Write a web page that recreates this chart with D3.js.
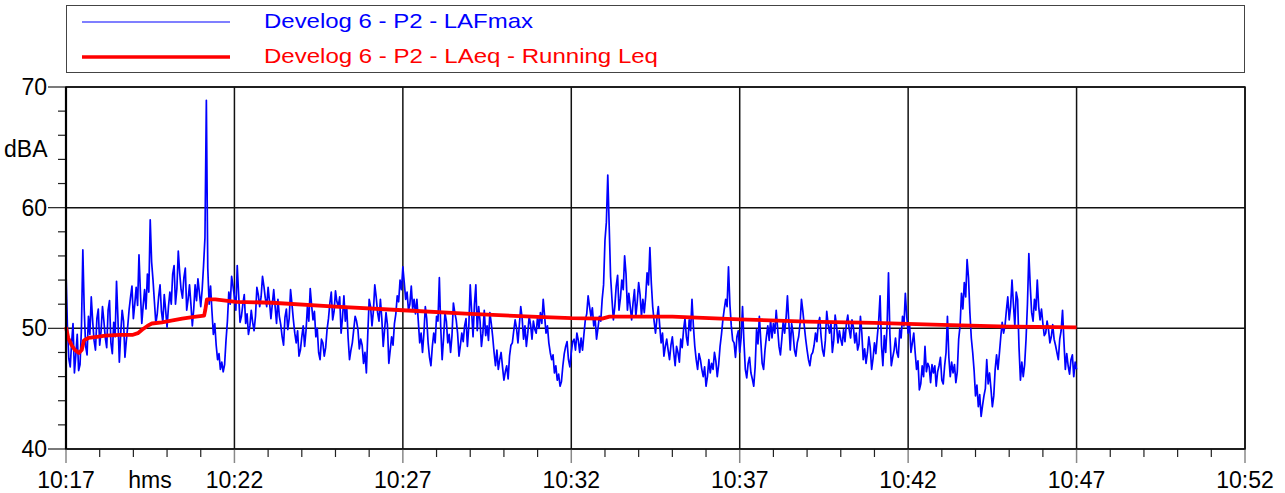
<!DOCTYPE html>
<html>
<head>
<meta charset="utf-8">
<script src="https://cdn.jsdelivr.net/npm/d3@7/dist/d3.min.js"></script>
<style>
  html, body { margin: 0; padding: 0; background: #fff; }
  svg { display: block; font-family: "Liberation Sans", Arial, sans-serif; }
</style>
</head>
<body>
<svg id="chart" width="1285" height="493"></svg>
<script>
// ---------------- DATA ----------------
const startTime = "10:17:00";
const sampleStepSeconds = 5;
const xTickLabels = ["10:17", "10:22", "10:27", "10:32", "10:37", "10:42", "10:47", "10:52"];
const yTickLabels = [40, 50, 60, 70];
const seriesNames = ["Develog 6 - P2 - LAFmax", "Develog 6 - P2 - LAeq - Running Leq"];

// LAFmax read at 10:17:00 + k*5 s (dBA)
const lafmax = [
  54.7,47.5,48.8,46.3,49.5,47.0,56.5,48.5,51.0,52.6,49.0,50.8,48.6,51.8,49.2,51.5,48.8,50.5,53.9,47.2,
  51.5,47.6,50.2,52.6,50.8,53.4,56.1,50.4,53.2,54.5,59.0,54.0,50.4,52.6,51.4,52.8,50.1,53.0,54.5,52.0,
  56.4,53.2,54.2,51.5,53.6,50.2,53.6,54.1,51.8,55.2,68.9,52.0,51.4,50.4,47.4,46.6,46.4,49.0,53.0,54.3,
  52.6,55.2,50.5,52.0,50.4,49.5,51.5,49.8,53.4,51.8,54.3,52.5,53.4,50.8,
  53.2,50.4,51.0,49.3,50.9,49.9,53.2,50.7,48.8,47.7,49.3,48.5,51.8,53.3,50.7,49.3,48.0,49.1,47.7,49.9,
  52.1,50.7,53.1,51.8,49.6,52.7,51.8,47.4,48.8,51.0,49.9,49.1,47.1,46.3,52.4,50.2,53.6,51.3,52.4,48.5,
  51.3,47.1,49.3,50.4,52.7,54.0,55.1,52.4,51.5,53.5,52.4,52.4,48.8,48.0,51.8,48.8,46.9,49.6,51.0,54.2,
  47.4,51.3,48.8,48.0,52.1,50.7,47.7,49.6,50.2,48.5,53.6,49.3,
  53.6,51.8,48.5,51.5,50.2,51.3,49.3,46.9,46.6,48.0,45.7,46.9,47.7,48.8,50.7,48.8,51.8,49.1,48.5,51.0,
  49.1,49.9,51.0,51.3,52.4,49.6,48.8,47.4,46.3,45.7,45.2,46.9,48.5,47.4,48.0,49.1,49.6,48.0,48.2,50.7,
  52.7,51.0,50.2,49.1,51.0,52.4,57.3,62.7,54.3,50.7,53.5,51.5,54.0,56.0,51.5,51.8,52.1,51.0,53.8,51.0,
  51.3,54.6,56.7,51.8,49.6,51.8,48.8,47.7,49.1,47.4,49.3,46.9,
  48.0,49.1,49.9,49.3,50.7,52.4,48.5,46.6,47.4,46.0,45.2,47.4,47.1,48.0,46.0,48.5,50.7,52.4,55.1,50.2,
  48.8,49.3,48.0,51.8,46.6,47.1,46.3,45.2,49.9,51.0,47.1,48.2,50.2,50.7,50.4,51.5,48.5,49.1,49.6,52.7,
  48.2,49.6,47.7,49.3,52.4,50.2,48.2,46.9,48.0,49.6,50.4,49.3,47.7,51.4,49.6,48.0,51.1,48.8,49.1,49.9,
  50.4,49.9,50.7,48.8,48.2,51.0,47.4,47.1,49.3,46.6,48.8,49.3,
  52.7,46.9,48.0,54.6,46.9,48.2,48.0,49.9,51.0,52.9,49.6,48.0,49.6,46.6,44.9,46.9,48.5,47.1,45.5,46.3,
  45.2,46.9,45.7,46.9,51.0,46.0,46.3,45.5,49.1,52.9,53.8,55.7,51.3,48.0,44.4,43.5,42.7,44.4,47.4,46.3,
  43.5,46.6,46.6,49.3,49.6,51.5,50.7,54.0,50.2,52.4,45.7,46.0,49.1,56.2,51.3,52.4,54.0,50.7,50.4,49.6,
  49.9,49.3,49.1,48.0,49.1,51.5,46.6,46.9,47.4,46.0,46.6
];

// LAFmax read at 10:17:02.5 + k*5 s (dBA)
const lafmaxHalf = [
  50.2,46.8,50.4,47.8,46.5,50.0,51.5,47.8,49.5,50.6,48.2,51.6,49.8,50.6,48.4,52.3,47.9,49.3,50.8,49.6,
  50.6,49.0,51.6,53.5,52.0,51.9,53.0,51.9,51.6,53.0,55.5,52.2,51.2,53.6,50.5,51.5,51.8,52.0,55.2,53.3,
  54.6,52.5,55.0,52.4,52.0,51.6,52.3,53.0,53.2,57.5,55.0,53.5,49.5,48.6,47.9,47.2,47.0,50.6,52.0,53.5,
  51.5,52.8,51.0,52.8,51.2,50.2,50.5,51.0,52.8,52.6,53.5,51.8,52.2,52.0,
  51.8,52.4,50.3,48.6,51.6,50.8,52.0,49.6,49.8,48.2,50.2,49.8,50.6,51.9,51.4,50.0,47.4,48.8,48.4,50.8,
  53.0,51.4,52.2,52.6,50.9,50.6,49.2,48.2,49.9,50.6,48.3,48.6,48.0,49.5,51.8,51.4,52.6,50.6,50.8,49.9,
  50.3,48.2,48.6,51.2,52.2,53.2,53.8,53.0,52.0,51.6,51.2,50.6,49.6,49.6,50.8,47.6,48.5,48.8,50.6,50.0,
  49.2,50.6,49.5,49.4,51.3,49.6,48.6,48.9,50.8,50.2,51.4,52.0,
  49.8,50.6,49.6,49.4,49.0,50.4,48.0,48.2,47.4,46.8,46.4,45.8,48.6,49.8,50.0,50.3,50.8,50.2,49.6,50.3,
  50.6,49.6,50.0,50.4,51.0,50.2,48.0,47.8,46.9,46.2,45.6,47.9,48.9,46.8,48.9,48.2,49.0,49.2,49.5,51.2,
  51.8,51.7,50.8,50.0,50.6,53.6,58.8,58.5,52.4,51.8,54.4,52.5,53.2,54.5,52.9,50.7,53.2,52.2,52.8,52.4,
  52.6,53.6,53.8,50.6,50.8,50.2,49.6,48.5,48.2,48.6,48.0,48.5,
  47.2,48.4,50.8,48.6,49.8,50.2,47.4,47.9,46.6,46.8,46.0,46.3,46.6,47.3,47.0,49.5,51.6,51.8,52.0,49.0,
  47.6,49.8,49.2,48.9,45.9,47.6,45.8,46.8,48.7,49.0,46.6,49.3,49.0,49.2,49.6,50.0,47.8,50.6,50.8,50.5,
  50.4,48.2,48.8,50.4,51.4,49.1,47.4,47.8,48.6,48.9,50.9,48.2,49.0,50.3,50.5,49.0,50.2,49.8,48.6,48.9,
  51.1,49.2,50.1,49.6,48.7,49.6,48.3,48.0,48.4,47.5,47.9,50.6,
  48.6,49.4,50.2,49.5,47.6,49.2,47.6,49.2,50.2,51.0,50.4,48.8,48.0,47.3,45.4,46.0,46.4,46.8,47.0,46.9,
  46.4,47.6,45.4,48.0,47.6,47.2,47.0,46.4,50.2,51.6,52.6,54.2,49.2,46.5,45.3,44.5,43.6,45.0,45.4,45.0,
  44.4,47.8,47.9,50.5,50.2,52.6,51.8,52.0,53.0,48.4,47.2,47.0,52.0,53.5,50.6,51.5,51.8,51.6,49.4,50.6,
  48.8,50.3,48.6,47.4,49.8,48.9,47.9,46.2,47.8,47.2
];

// LAeq running Leq: seconds after 10:17:00 and values (dBA)
const leqSeconds = [0,4,10,16,23,28,32,40,55,70,95,118,128,136,145,153,171,190,207,228,246,248,251,266,302,367,480,600,720,840,900,955,968,1080,1200,1320,1440,1560,1680,1800];
const leqValues  = [50.1,49.2,48.6,48.2,47.95,48.2,49.0,49.2,49.3,49.4,49.45,49.45,49.6,49.9,50.2,50.4,50.5,50.65,50.8,50.95,51.05,51.5,52.4,52.4,52.2,52.12,51.8,51.5,51.2,50.95,50.84,50.8,50.97,50.97,50.75,50.56,50.45,50.28,50.14,50.08];

// ---------------- CHART ----------------
const svg = d3.select("#chart");
const L = 66, R = 1245, T = 87, B = 449;
const x = d3.scaleLinear().domain([0, 2100]).range([L, R]);
const y = d3.scaleLinear().domain([40, 70]).range([B, T]);
const fontAxis = 23;

const lafData = [];
lafmax.forEach((v, i) => {
  lafData.push({ t: i * sampleStepSeconds, v });
  if (i < lafmaxHalf.length) lafData.push({ t: i * sampleStepSeconds + sampleStepSeconds / 2, v: lafmaxHalf[i] });
});
const leqData = leqSeconds.map((t, i) => ({ t, v: leqValues[i] }));

const majorX = xTickLabels.map((s, i) => i * 300);
const minorX = d3.range(0, 2101, 60).filter(t => t % 300 !== 0);
const minorY = d3.range(40, 70.1, 2).filter(v => v % 10 !== 0);

// Legend
const lg = svg.append("g");
lg.append("rect").attr("x", 66.5).attr("y", 5.5).attr("width", 1178).attr("height", 67)
  .attr("fill", "#fff").attr("stroke", "#444").attr("stroke-width", 1);
lg.append("line").attr("x1", 82).attr("x2", 230).attr("y1", 22).attr("y2", 22)
  .attr("stroke", "#0000ff").attr("stroke-width", 1.2);
lg.append("line").attr("x1", 82).attr("x2", 230).attr("y1", 57).attr("y2", 57)
  .attr("stroke", "#ff0000").attr("stroke-width", 3.5);
lg.append("text").attr("x", 264).attr("y", 28).attr("fill", "#0000ff").attr("font-size", 21)
  .attr("textLength", 269).attr("lengthAdjust", "spacingAndGlyphs").text(seriesNames[0]);
lg.append("text").attr("x", 264).attr("y", 63).attr("fill", "#ff0000").attr("font-size", 21)
  .attr("textLength", 394).attr("lengthAdjust", "spacingAndGlyphs").text(seriesNames[1]);

// Grid
const grid = svg.append("g");
grid.selectAll(".vg").data(majorX.slice(1)).join("line")
  .attr("x1", d => x(d)).attr("x2", d => x(d)).attr("y1", T).attr("y2", B)
  .attr("stroke", "#111").attr("stroke-width", 1.5);
grid.selectAll(".hg").data(yTickLabels).join("line")
  .attr("x1", L).attr("x2", R).attr("y1", d => y(d)).attr("y2", d => y(d))
  .attr("stroke", "#111").attr("stroke-width", 1.5);

// X axis ticks (below)
const xa = svg.append("g");
xa.selectAll(".mx").data(minorX).join("line")
  .attr("x1", d => x(d)).attr("x2", d => x(d)).attr("y1", B).attr("y2", B + 8)
  .attr("stroke", "#222").attr("stroke-width", 1.2);
xa.selectAll(".Mx").data(majorX).join("line")
  .attr("x1", d => x(d)).attr("x2", d => x(d)).attr("y1", B).attr("y2", B + 14)
  .attr("stroke", "#888").attr("stroke-width", 1.5);
xa.selectAll(".xl").data(majorX).join("text")
  .attr("x", d => x(d)).attr("y", 488).attr("text-anchor", "middle")
  .attr("font-size", fontAxis).attr("fill", "#000").text((d, i) => xTickLabels[i]);
xa.append("text").attr("x", 150).attr("y", 488).attr("text-anchor", "middle")
  .attr("font-size", fontAxis).attr("fill", "#000").text("hms");

// Y axis ticks (left)
const ya = svg.append("g");
ya.selectAll(".my").data(minorY).join("line")
  .attr("x1", L - 8).attr("x2", L).attr("y1", d => y(d)).attr("y2", d => y(d))
  .attr("stroke", "#222").attr("stroke-width", 1.2);
ya.selectAll(".My").data(yTickLabels).join("line")
  .attr("x1", L - 18).attr("x2", L).attr("y1", d => y(d)).attr("y2", d => y(d))
  .attr("stroke", "#222").attr("stroke-width", 1.2);
ya.selectAll(".yl").data(yTickLabels).join("text")
  .attr("x", 47).attr("y", d => y(d) + 8).attr("text-anchor", "end")
  .attr("font-size", fontAxis).attr("fill", "#000").text(d => d);
ya.append("text").attr("x", 4).attr("y", 157).attr("font-size", fontAxis).attr("fill", "#000").text("dBA");

// Series
const line = d3.line().x(d => x(d.t)).y(d => y(d.v));
svg.append("path").datum(lafData).attr("d", line)
  .attr("fill", "none").attr("stroke", "#0000ff").attr("stroke-width", 1.7).attr("stroke-linejoin", "round");
svg.append("path").datum(leqData).attr("d", line)
  .attr("fill", "none").attr("stroke", "#ff0000").attr("stroke-width", 3.8).attr("stroke-linejoin", "round");

// Frame
svg.append("rect").attr("x", L).attr("y", T).attr("width", R - L).attr("height", B - T)
  .attr("fill", "none").attr("stroke", "#111").attr("stroke-width", 1.5);
svg.append("line").attr("x1", L).attr("x2", L).attr("y1", T).attr("y2", B)
  .attr("stroke", "#000").attr("stroke-width", 2.2);
</script>
</body>
</html>
